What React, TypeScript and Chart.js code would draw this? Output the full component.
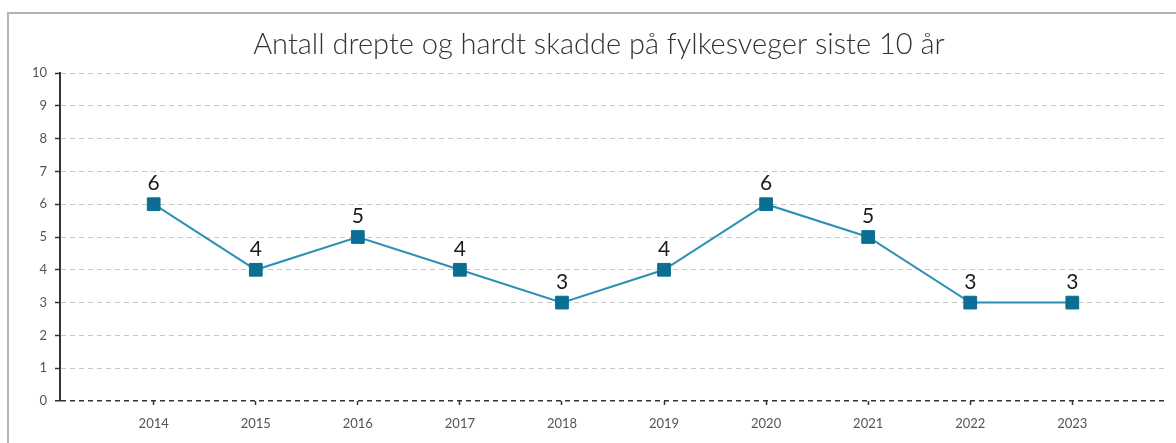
import React, { useEffect, useRef } from "react";
import { Chart, registerables } from "chart.js";

Chart.register(...registerables);

const TITLE = "Antall drepte og hardt skadde på fylkesveger siste 10 år";
const years = [2014, 2015, 2016, 2017, 2018, 2019, 2020, 2021, 2022, 2023];
const values = [6, 4, 5, 4, 3, 4, 6, 5, 3, 3];
const yTicks = [0, 1, 2, 3, 4, 5, 6, 7, 8, 9, 10];

const FONT = "Lato, 'Open Sans', sans-serif";

const W = 1176;
const H = 443;

export default function App() {
  const ref = useRef<HTMLCanvasElement>(null);

  useEffect(() => {
    if (!ref.current) return;

    const titlePlugin = {
      id: "customTitle",
      afterDraw(chart: any) {
        const ctx = chart.ctx;
        ctx.save();
        ctx.font = `300 29px ${FONT}`;
        ctx.fillStyle = "#333333";
        ctx.textAlign = "center";
        ctx.textBaseline = "middle";
        ctx.fillText(TITLE, 599, 45);
        ctx.restore();
      },
    };

    const labelPlugin = {
      id: "pointLabels",
      afterDatasetsDraw(chart: any) {
        const ctx = chart.ctx;
        const meta = chart.getDatasetMeta(0);
        ctx.save();
        ctx.font = `21px ${FONT}`;
        ctx.fillStyle = "#1a1a1a";
        ctx.textAlign = "center";
        ctx.textBaseline = "bottom";
        meta.data.forEach((pt: any, i: number) => {
          ctx.fillText(String(values[i]), pt.x, pt.y - 10);
        });
        ctx.restore();
      },
    };

    const chart = new Chart(ref.current, {
      type: "line",
      data: {
        datasets: [
          {
            data: years.map((y, i) => ({ x: y, y: values[i] })),
            borderColor: "#2c90b6",
            borderWidth: 2,
            backgroundColor: "#0b6e92",
            pointBackgroundColor: "#0b6e92",
            pointBorderColor: "#0b6e92",
            pointBorderWidth: 1,
            pointStyle: "rect",
            pointRadius: 9,
            pointHoverRadius: 9,
            tension: 0,
          },
        ],
      },
      plugins: [titlePlugin, labelPlugin],
      options: {
        responsive: false,
        animation: false,
        events: [],
        layout: { padding: { left: 0, right: 6, top: 73, bottom: 0 } },
        plugins: {
          legend: { display: false },
          title: { display: false },
          tooltip: { enabled: false },
        },
        scales: {
          x: {
            type: "linear",
            min: 2014 - 0.918,
            max: 2023 + 0.918,
            afterBuildTicks: (s: any) => {
              s.ticks = years.map((v) => ({ value: v }));
            },
            afterFit: (s: any) => {
              s.height = H - 401;
            },
            ticks: {
              autoSkip: false,
              maxRotation: 0,
              padding: 11,
              color: "#555555",
              font: { family: FONT, size: 13 },
              callback: (v: any) => String(v),
            },
            grid: {
              drawOnChartArea: false,
              drawTicks: true,
              tickLength: 4,
              tickColor: "#333333",
              tickWidth: 1.5,
            },
            border: { display: false },
          },
          y: {
            min: 0,
            max: 10,
            afterBuildTicks: (s: any) => {
              s.ticks = yTicks.map((v) => ({ value: v }));
            },
            afterFit: (s: any) => {
              s.width = 60;
            },
            ticks: {
              padding: 8,
              color: "#555555",
              font: { family: FONT, size: 13 },
            },
            grid: {
              color: (c: any) => (c.tick && c.tick.value === 0 ? "#333333" : "#c8c8c8"),
              lineWidth: (c: any) => (c.tick && c.tick.value === 0 ? 1.5 : 1),
              drawTicks: true,
              tickLength: 5,
              tickColor: "#333333",
              tickWidth: 1.5,
            },
            border: { display: true, color: "#333333", width: 2, dash: [5, 4] },
          },
        },
      },
    });

    return () => chart.destroy();
  }, []);

  return (
    <div
      style={{
        position: "absolute",
        left: 0,
        top: 0,
        width: W,
        height: H,
        overflow: "hidden",
        background: "#ffffff",
      }}
    >
      <div
        style={{
          position: "absolute",
          left: 7,
          top: 12,
          width: W,
          height: H,
          borderTop: "2px solid #b4b4b4",
          borderLeft: "2px solid #b4b4b4",
        }}
      />
      <canvas ref={ref} width={W} height={H} style={{ position: "absolute", left: 0, top: 0 }} />
    </div>
  );
}
